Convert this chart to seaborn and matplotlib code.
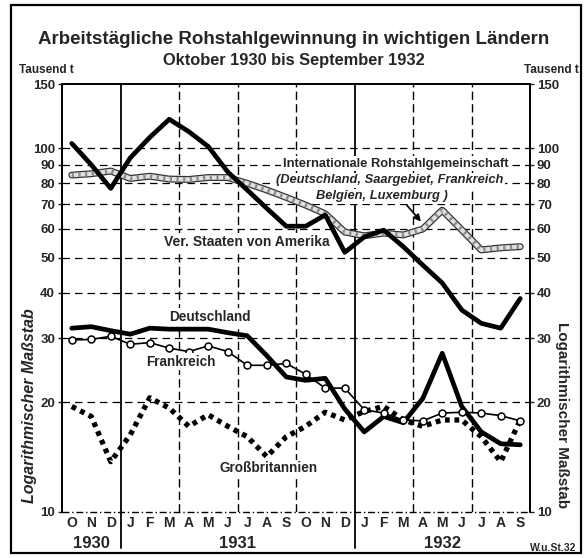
import numpy as np
import pandas as pd
import matplotlib
matplotlib.use('Agg')
import matplotlib.pyplot as plt
import matplotlib.transforms as mtransforms
from matplotlib.patches import Rectangle
from matplotlib.ticker import NullLocator
import seaborn as sns

# months Oct 1930 .. Sep 1932
months = ['O', 'N', 'D', 'J', 'F', 'M', 'A', 'M', 'J', 'J', 'A', 'S',
          'O', 'N', 'D', 'J', 'F', 'M', 'A', 'M', 'J', 'J', 'A', 'S']
years = ['1930', '1931', '1932']

# working-day crude steel output, thousand t
usa = [103, 90, 77.5, 94, 107, 120, 111, 101, 86, 76.7, 68.3, 61,
       61, 65.5, 51.7, 57, 59.5, 53.6, 47.7, 42.6, 35.9, 33.0, 32.0, 38.6]
irg = [84.3, 85, 86.5, 82.5, 83.7, 82.2, 82, 83, 83, 80, 76.7, 73.2,
       69.7, 66, 58.8, 57.4, 58.4, 57.7, 59.9, 67.5, 59.6, 52.5, 53.2, 53.6]
deutschland = [32.0, 32.3, 31.5, 30.8, 32.0, 31.8, 31.8, 31.8, 31.1, 30.5, 26.9, 23.5,
               23.0, 23.3, 19.2, 16.6, 18.3, 17.6, 20.5, 27.3, 19.5, 16.6, 15.4, 15.3]
frankreich = [29.7, 29.8, 30.4, 28.9, 29.2, 28.2, 27.6, 28.6, 27.6, 25.3, 25.3, 25.6,
              23.9, 21.9, 21.9, 19.1, 18.7, 17.9, 17.8, 18.7, 18.8, 18.7, 18.4, 17.8]
grossbritannien = [19.5, 18.3, 13.75, 16.3, 20.6, 19.3, 17.2, 18.5, 17.2, 16.1, 14.2, 16.1,
                   17.2, 18.8, 17.9, 18.9, 19.5, 17.9, 17.2, 17.9, 17.9, 16.1, 13.75, 17.9]

yticks = [10, 20, 30, 40, 50, 60, 70, 80, 90, 100, 150]

sns.set_style('white')
plt.rcParams['font.family'] = ['Liberation Sans', 'DejaVu Sans']
plt.rcParams['font.weight'] = 'bold'

df = pd.DataFrame({'m': np.arange(len(months)), 'usa': usa, 'irg': irg,
                   'de': deutschland, 'fr': frankreich, 'gb': grossbritannien})

fig = plt.figure(figsize=(5.88, 5.58), dpi=100)
ax = fig.add_axes([62 / 588, 1 - 512 / 558, 468 / 588, 428 / 558])
ax.set_yscale('log')

# grid
for v in yticks[1:-1]:
    ax.axhline(v, color='black', lw=0.9, ls=(0, (6, 4)), zorder=1)
ax.axhline(10, color='black', lw=1.0, ls=(0, (5, 2, 1, 2)), zorder=1, clip_on=False)
for b in [5.5, 8.5, 11.5, 17.5, 20.5]:
    ax.axvline(b, color='black', lw=1.0, ls=(0, (6, 3)), zorder=1)
for b in [2.5, 14.5]:
    ax.axvline(b, ymin=-0.083, ymax=1, color='black', lw=1.3, zorder=1, clip_on=False)

# series
sns.lineplot(data=df, x='m', y='usa', color='black', lw=3.4, ax=ax, zorder=4)
sns.lineplot(data=df, x='m', y='irg', color='#333333', lw=5, ax=ax, zorder=3)
sns.lineplot(data=df, x='m', y='irg', color='#e0e0e0', lw=3.2, ax=ax, zorder=3)
sns.lineplot(data=df, x='m', y='irg', color='#8a8a8a', lw=3.2, ls=(0, (0.5, 1.0)), ax=ax, zorder=3)
sns.lineplot(data=df, x='m', y='de', color='black', lw=3.4, ax=ax, zorder=4)
sns.lineplot(data=df, x='m', y='fr', color='black', lw=1.2, marker='o', ms=5,
             mfc='white', mec='black', mew=1.1, ax=ax, zorder=5)
sns.lineplot(data=df, x='m', y='gb', color='black', lw=3.8, ls=(0, (0.9, 0.9)), ax=ax, zorder=4)

ax.set_ylim(10, 150)
ax.set_xlim(-0.5, 23.5)
ax.set_xlabel('')
ax.set_ylabel('')
ax.set_yticks(yticks)
ax.set_yticklabels([str(v) for v in yticks], fontsize=9.5, fontweight='bold')
ax.yaxis.set_minor_locator(NullLocator())
ax.tick_params(axis='y', which='both', left=True, right=True, labelleft=True, labelright=True,
               length=3, width=1, pad=2, direction='out')
ax.set_xticks(range(len(months)))
ax.set_xticklabels(months, fontsize=10, fontweight='bold')
ax.tick_params(axis='x', length=0, pad=3)
for s in ['left', 'right', 'top']:
    ax.spines[s].set_linewidth(1.4)
    ax.spines[s].set_color('black')
ax.spines['bottom'].set_visible(False)

# year labels
trans = mtransforms.blended_transform_factory(ax.transData, ax.transAxes)
for yr, xc in zip(years, [1, 8.5, 19]):
    ax.text(xc, -0.073, yr, transform=trans, ha='center', va='center',
            fontsize=12, fontweight='bold')

# series labels
box = dict(facecolor='white', edgecolor='none', pad=1)
ax.text(16.6, 90.5, 'Internationale Rohstahlgemeinschaft', ha='center', va='center',
        fontsize=9.3, bbox=box, zorder=6)
ax.text(16.3, 81.5, '(Deutschland, Saargebiet, Frankreich', ha='center', va='center',
        fontsize=9.3, style='italic', bbox=box, zorder=6)
ax.text(15.9, 73.8, 'Belgien, Luxemburg )', ha='center', va='center',
        fontsize=9.3, style='italic', bbox=box, zorder=6)
ax.annotate('', xy=(18.0, 62.0), xytext=(17.1, 70.5),
            arrowprops=dict(arrowstyle='-|>', color='black', lw=1.2, mutation_scale=10), zorder=6)
ax.text(9.0, 55.3, 'Ver. Staaten von Amerika', ha='center', va='center',
        fontsize=10, bbox=box, zorder=6)
ax.text(7.1, 34.4, 'Deutschland', ha='center', va='center', fontsize=9.8, bbox=box, zorder=6)
ax.text(5.6, 25.9, 'Frankreich', ha='center', va='center', fontsize=9.8, bbox=box, zorder=6)
ax.text(10.1, 13.2, 'Großbritannien', ha='center', va='center', fontsize=9.8, bbox=box, zorder=6)

# titles and side notes
fig.text(0.5, 1 - 40 / 558, 'Arbeitstägliche Rohstahlgewinnung in wichtigen Ländern',
         ha='center', va='center', fontsize=13.5, fontweight='bold')
fig.text(0.5, 1 - 60 / 558, 'Oktober 1930 bis September 1932',
         ha='center', va='center', fontsize=11.8, fontweight='bold')
fig.text(46 / 588, 1 - 70 / 558, 'Tausend t', ha='center', va='center', fontsize=8.5)
fig.text(551 / 588, 1 - 70 / 558, 'Tausend t', ha='center', va='center', fontsize=8.5)
fig.text(30 / 588, 1 - 406 / 558, 'Logarithmischer Maßstab', rotation=90, ha='center',
         va='center', fontsize=11.5, style='italic')
fig.text(562 / 588, 1 - 415 / 558, 'Logarithmischer Maßstab', rotation=-90, ha='center',
         va='center', fontsize=11)
fig.text(553 / 588, 1 - 548 / 558, 'W.u.St.32', ha='center', va='center', fontsize=7.5)

fig.add_artist(Rectangle((11 / 588, 5 / 558), 570 / 588, 548 / 558, transform=fig.transFigure,
                         fill=False, lw=1.6, edgecolor='black'))

fig.savefig('out.png', dpi=100)
